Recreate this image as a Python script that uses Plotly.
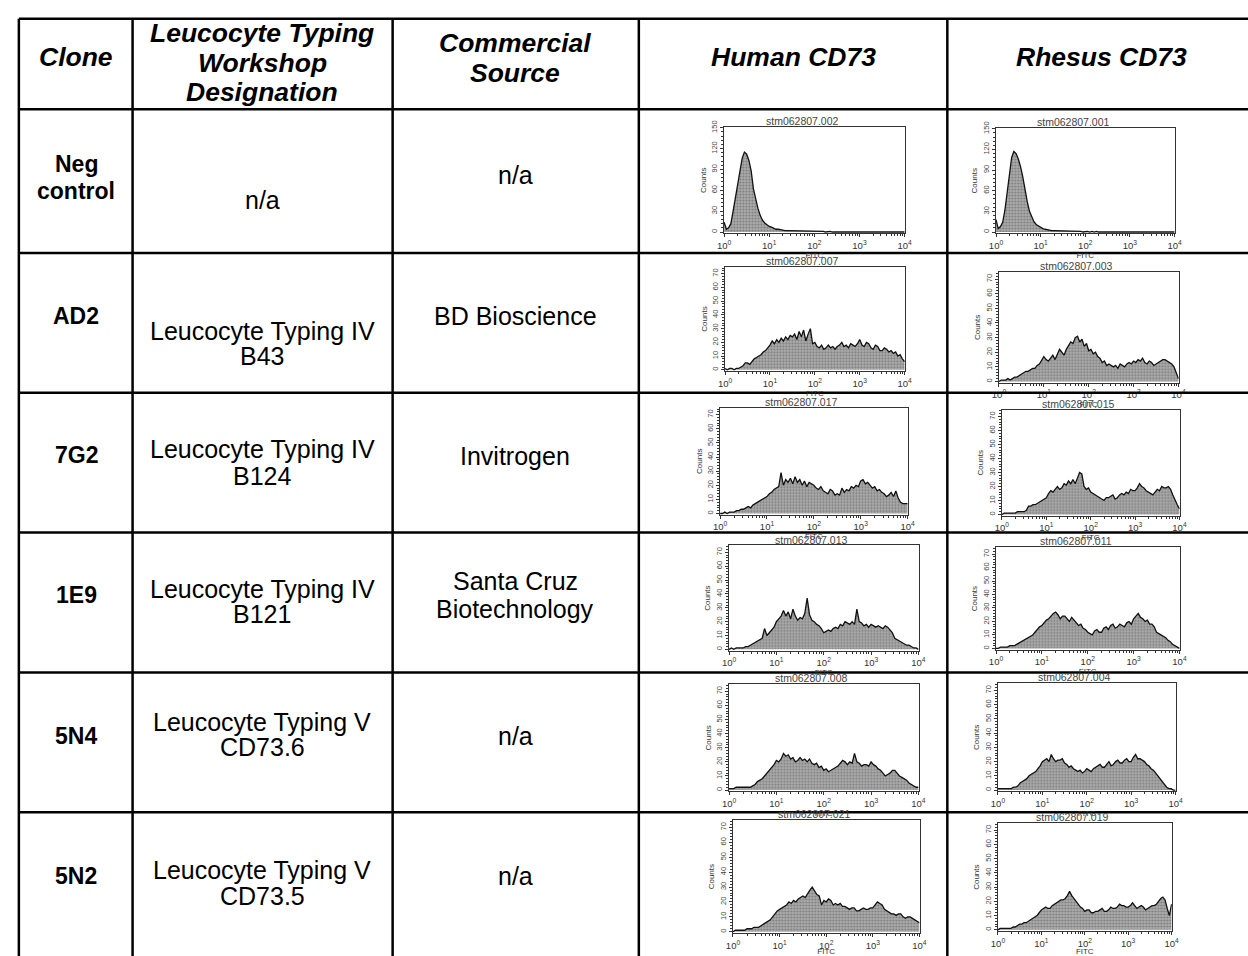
import plotly.graph_objects as go

W, H = 1248, 956

# ---------------- data ----------------
CHANNEL_LOG10 = [
    0.00, 0.05, 0.10, 0.15, 0.20, 0.25, 0.30, 0.35, 0.40, 0.45,
    0.50, 0.55, 0.60, 0.65, 0.70, 0.75, 0.80, 0.85, 0.90, 0.95,
    1.00, 1.05, 1.10, 1.15, 1.20, 1.25, 1.30, 1.35, 1.40, 1.45,
    1.50, 1.55, 1.60, 1.65, 1.70, 1.75, 1.80, 1.85, 1.90, 1.95,
    2.00, 2.05, 2.10, 2.15, 2.20, 2.25, 2.30, 2.35, 2.40, 2.45,
    2.50, 2.55, 2.60, 2.65, 2.70, 2.75, 2.80, 2.85, 2.90, 2.95,
    3.00, 3.05, 3.10, 3.15, 3.20, 3.25, 3.30, 3.35, 3.40, 3.45,
    3.50, 3.55, 3.60, 3.65, 3.70, 3.75, 3.80, 3.85, 3.90, 3.95,
    4.00,
]

HUMAN_NEG = [
    14, 4, 6, 12, 30, 50, 72, 92, 106, 115,
    112, 103, 88, 62, 46, 34, 24, 17, 13, 10,
    8, 7, 5, 4, 4, 3, 3, 2, 2, 2,
    2, 1, 2, 1, 1, 2, 1, 1, 1, 1,
    1, 1, 1, 1, 1, 0, 1, 1, 0, 0,
    1, 0, 0, 0, 0, 0, 0, 0, 0, 0,
    0, 0, 0, 0, 0, 0, 0, 0, 0, 0,
    0, 0, 0, 0, 0, 0, 0, 0, 0, 0,
    0,
]
RHESUS_NEG = [
    18, 5, 8, 14, 32, 58, 88, 108, 117, 114,
    106, 95, 80, 60, 44, 30, 21, 15, 11, 9,
    6, 5, 4, 3, 3, 2, 2, 2, 2, 1,
    2, 1, 1, 1, 2, 1, 1, 1, 1, 0,
    1, 1, 0, 1, 0, 1, 0, 0, 1, 0,
    0, 0, 0, 0, 0, 0, 0, 0, 0, 0,
    0, 0, 0, 0, 0, 0, 0, 0, 0, 0,
    0, 0, 0, 0, 0, 0, 0, 0, 0, 0,
    0,
]
HUMAN_AD2 = [
    1, 0, 1, 1, 0, 1, 1, 2, 3, 5,
    5, 4, 6, 8, 9, 10, 11, 13, 14, 16,
    18, 21, 19, 22, 20, 23, 21, 24, 22, 25,
    24, 26, 22, 28, 24, 29, 21, 26, 30, 19,
    20, 17, 16, 18, 15, 16, 18, 16, 17, 15,
    17, 18, 20, 17, 18, 16, 19, 18, 17, 19,
    22, 18, 17, 20, 19, 16, 15, 18, 17, 14,
    14, 16, 15, 13, 14, 12, 13, 10, 11, 8,
    6,
]
RHESUS_AD2 = [
    0, 1, 1, 1, 2, 1, 2, 3, 3, 4,
    5, 6, 7, 7, 8, 9, 9, 11, 12, 15,
    17, 15, 14, 16, 18, 15, 19, 22, 20, 18,
    22, 25, 27, 26, 30, 31, 27, 29, 24, 26,
    21, 22, 19, 20, 17, 16, 13, 14, 11, 12,
    11, 10, 11, 9, 12, 11, 10, 12, 13, 12,
    14, 13, 15, 14, 16, 13, 12, 14, 13, 11,
    12, 13, 14, 15, 15, 14, 13, 12, 10, 6,
    2,
]
HUMAN_7G2 = [
    0, 0, 1, 0, 1, 1, 1, 2, 2, 3,
    3, 4, 5, 4, 6, 7, 8, 9, 10, 11,
    12, 14, 15, 17, 18, 19, 29, 20, 24, 22,
    25, 21, 26, 22, 24, 20, 23, 19, 22, 21,
    20, 18, 17, 19, 16, 15, 14, 17, 16, 13,
    14, 13, 18, 15, 17, 16, 19, 18, 20, 19,
    23, 24, 21, 22, 20, 18, 19, 16, 17, 15,
    14, 12, 13, 15, 12, 16, 11, 8, 7, 7,
    7,
]
RHESUS_7G2 = [
    0, 1, 1, 1, 1, 1, 1, 2, 2, 2,
    2, 3, 6, 6, 7, 7, 8, 9, 10, 11,
    12, 15, 17, 16, 18, 20, 18, 19, 22, 21,
    24, 22, 25, 22, 26, 30, 29, 20, 18, 19,
    16, 15, 14, 13, 12, 11, 10, 12, 12, 13,
    14, 11, 12, 14, 15, 14, 16, 15, 18, 17,
    17, 19, 22, 20, 19, 17, 16, 15, 14, 16,
    18, 17, 20, 19, 19, 20, 18, 14, 10, 7,
    4,
]
HUMAN_1E9 = [
    0, 1, 0, 1, 1, 1, 1, 2, 2, 3,
    4, 5, 6, 7, 8, 15, 10, 12, 14, 16,
    20, 22, 24, 28, 24, 27, 22, 29, 24, 21,
    23, 22, 26, 37, 25, 21, 20, 18, 17, 15,
    12, 13, 14, 13, 15, 16, 15, 18, 17, 20,
    19, 18, 20, 18, 29, 20, 19, 17, 18, 16,
    18, 17, 16, 17, 16, 15, 17, 16, 14, 12,
    8, 7, 6, 5, 4, 3, 3, 2, 1, 1,
    0,
]
RHESUS_1E9 = [
    0, 0, 1, 1, 1, 1, 2, 2, 2, 3,
    4, 5, 6, 7, 8, 9, 10, 12, 14, 16,
    17, 19, 21, 22, 24, 26, 27, 25, 22, 24,
    24, 22, 20, 23, 21, 19, 17, 18, 15, 14,
    12, 11, 10, 13, 14, 12, 12, 15, 16, 14,
    17, 18, 15, 16, 18, 17, 16, 19, 20, 18,
    22, 24, 26, 23, 22, 20, 21, 18, 18, 16,
    12, 11, 10, 9, 8, 6, 5, 3, 2, 1,
    0,
]
HUMAN_5N4 = [
    1, 1, 1, 2, 2, 2, 2, 2, 2, 2,
    3, 4, 6, 7, 8, 10, 12, 14, 16, 18,
    21, 20, 22, 26, 24, 25, 22, 23, 20, 21,
    23, 21, 22, 20, 22, 19, 18, 19, 16, 17,
    14, 15, 13, 14, 15, 16, 17, 19, 21, 20,
    18, 20, 19, 26, 20, 19, 17, 18, 18, 17,
    20, 18, 17, 15, 14, 12, 10, 11, 12, 14,
    14, 12, 10, 9, 8, 7, 5, 4, 3, 2,
    2,
]
RHESUS_5N4 = [
    1, 1, 1, 1, 1, 1, 1, 2, 2, 3,
    5, 6, 7, 8, 10, 11, 12, 13, 15, 17,
    20, 21, 22, 20, 25, 22, 20, 21, 21, 22,
    19, 18, 16, 17, 15, 14, 13, 14, 12, 13,
    15, 14, 13, 15, 16, 17, 18, 16, 16, 18,
    20, 17, 18, 20, 21, 19, 19, 21, 22, 20,
    20, 23, 25, 22, 22, 21, 20, 18, 17, 15,
    14, 12, 10, 8, 6, 4, 2, 1, 1, 0,
    0,
]
HUMAN_5N2 = [
    0, 1, 1, 1, 1, 1, 2, 2, 2, 3,
    3, 3, 4, 5, 6, 7, 8, 10, 12, 14,
    15, 16, 17, 18, 20, 19, 21, 20, 22, 23,
    24, 23, 26, 28, 30, 27, 25, 24, 18, 21,
    20, 22, 21, 18, 19, 18, 19, 17, 17, 16,
    15, 16, 16, 14, 14, 15, 16, 15, 15, 16,
    16, 18, 20, 19, 18, 15, 14, 13, 12, 12,
    11, 12, 12, 10, 9, 10, 10, 9, 8, 7,
    6,
]
RHESUS_5N2 = [
    0, 1, 1, 1, 1, 1, 1, 2, 2, 3,
    4, 4, 5, 5, 6, 7, 8, 9, 10, 12,
    14, 15, 16, 15, 15, 17, 18, 19, 20, 21,
    21, 22, 24, 27, 24, 22, 20, 18, 16, 15,
    13, 14, 14, 12, 12, 13, 13, 14, 15, 13,
    13, 14, 16, 15, 15, 16, 18, 17, 17, 16,
    16, 17, 19, 17, 15, 16, 17, 16, 14, 15,
    16, 17, 17, 18, 20, 22, 23, 21, 15, 10,
    18,
]

FILE_NAMES = [
    "stm062807.002", "stm062807.001",
    "stm062807.007", "stm062807.003",
    "stm062807.017", "stm062807.015",
    "stm062807.013", "stm062807.011",
    "stm062807.008", "stm062807.004",
    "stm062807.021", "stm062807.019",
]
PANEL_COUNTS = [
    HUMAN_NEG, RHESUS_NEG, HUMAN_AD2, RHESUS_AD2, HUMAN_7G2, RHESUS_7G2,
    HUMAN_1E9, RHESUS_1E9, HUMAN_5N4, RHESUS_5N4, HUMAN_5N2, RHESUS_5N2,
]

HEADERS = [
    ["Clone"],
    ["Leucocyte Typing", "Workshop", "Designation"],
    ["Commercial", "Source"],
    ["Human CD73"],
    ["Rhesus CD73"],
]
CLONES = [["Neg", "control"], ["AD2"], ["7G2"], ["1E9"], ["5N4"], ["5N2"]]
WORKSHOP = [
    ["n/a"],
    ["Leucocyte Typing IV", "B43"],
    ["Leucocyte Typing IV", "B124"],
    ["Leucocyte Typing IV", "B121"],
    ["Leucocyte Typing V", "CD73.6"],
    ["Leucocyte Typing V", "CD73.5"],
]
SOURCES = [
    ["n/a"], ["BD Bioscience"], ["Invitrogen"],
    ["Santa Cruz", "Biotechnology"], ["n/a"], ["n/a"],
]

X_TICKS = [1, 10, 100, 1000, 10000]
X_TICK_TEXT = ["10<sup>0</sup>", "10<sup>1</sup>", "10<sup>2</sup>", "10<sup>3</sup>", "10<sup>4</sup>"]
NEG_Y_TICKS = [0, 30, 60, 90, 120, 150]
POS_Y_TICKS = [0, 10, 20, 30, 40, 50, 60, 70]

# ---------------- layout (pixel geometry) ----------------
COL_EDGES = [12, 127, 390, 639, 951, 1263]
ROW_EDGES = [12, 104, 250, 392, 534, 676, 818]
TABLE_BOTTOM = 1000
COL_CENTERS = [70, 258, 514, 795, 1107]

HEADER_Y = [[51], [26, 57, 86], [37, 67], [51], [51]]
CLONE_Y = [[159, 187], [314], [455], [597], [741], [883]]
WORKSHOP_Y = [[196], [329, 355], [449, 476], [591, 617], [726, 752], [877, 903]]
SOURCE_Y = [[171], [314], [456], [583, 612], [741], [883]]

# (left, right, top, bottom) of each histogram plot area, pixels
PANEL_BOXES = [
    (725, 908, 122, 230), (1000, 1181, 123, 230),
    (726, 908, 264, 370), (1003, 1185, 269, 382),
    (721, 911, 407, 516), (1006, 1186, 409, 517),
    (730, 922, 547, 654), (1000, 1186, 549, 653),
    (730, 922, 688, 797), (1002, 1182, 687, 797),
    (734, 923, 826, 941), (1002, 1178, 829, 939),
]

FONT = "Liberation Sans, Arial, Helvetica, sans-serif"


def fx(x):
    return x / W


def fy(y):
    return 1 - y / H


fitc = [10 ** c for c in CHANNEL_LOG10]
minor_x = [m * d for d in [1, 10, 100, 1000] for m in range(2, 10)]

fig = go.Figure()
layout = dict(
    width=W, height=H,
    margin=dict(l=0, r=0, t=0, b=0),
    paper_bgcolor="white", plot_bgcolor="white",
    showlegend=False,
    font=dict(family=FONT, color="black"),
)
annotations = []
shapes = []

for i, (counts, box, name) in enumerate(zip(PANEL_COUNTS, PANEL_BOXES, FILE_NAMES)):
    n = i + 1
    sfx = "" if n == 1 else str(n)
    left, right, top, bottom = box
    neg = i < 2
    fig.add_trace(go.Scatter(
        x=fitc, y=counts, xaxis="x" + sfx, yaxis="y" + sfx,
        mode="lines", line=dict(color="#111111", width=1.3),
        fill="tozeroy", fillcolor="#a8a8a8",
        fillpattern=dict(shape=".", bgcolor="#adadad", fgcolor="#4a4a4a",
                         size=3, solidity=0.4),
        hoverinfo="skip",
    ))
    layout["xaxis" + sfx] = dict(
        type="log", range=[-0.005, 4.005],
        domain=[fx(left), fx(right)], anchor="y" + sfx,
        showline=True, linecolor="#333", linewidth=1, mirror=True,
        ticks="outside", ticklen=3, tickcolor="#333",
        tickvals=X_TICKS, ticktext=X_TICK_TEXT,
        tickfont=dict(size=9.5, color="#333"),
        title=dict(text="FITC", font=dict(size=8, color="#333"), standoff=0),
        showgrid=False, zeroline=False,
        minor=dict(ticks="outside", ticklen=2, tickcolor="#333",
                   tickvals=minor_x, showgrid=False),
        fixedrange=True,
    )
    layout["yaxis" + sfx] = dict(
        range=[-2, 151] if neg else [-1, 75],
        domain=[fy(bottom), fy(top)], anchor="x" + sfx,
        showline=True, linecolor="#333", linewidth=1, mirror=True,
        ticks="outside", ticklen=3, tickcolor="#333",
        tickvals=NEG_Y_TICKS if neg else POS_Y_TICKS,
        tickangle=-90,
        tickfont=dict(size=7.5, color="#444"),
        title=dict(text="Counts", font=dict(size=8, color="#333"), standoff=2),
        showgrid=False, zeroline=False,
        minor=dict(ticks="outside", ticklen=2, tickcolor="#333",
                   dtick=6 if neg else 2, showgrid=False),
        fixedrange=True,
    )
    annotations.append(dict(
        x=fx((left + right) / 2 - 12), y=fy(top - 6), xref="paper", yref="paper",
        text=name, showarrow=False, xanchor="center", yanchor="middle",
        font=dict(size=10.5, color="#444", family=FONT),
    ))

# table grid lines
for x in COL_EDGES:
    shapes.append(dict(type="line", xref="paper", yref="paper",
                       x0=fx(x), x1=fx(x), y0=fy(ROW_EDGES[0]), y1=fy(TABLE_BOTTOM),
                       line=dict(color="black", width=2.5)))
for y in ROW_EDGES:
    shapes.append(dict(type="line", xref="paper", yref="paper",
                       x0=fx(COL_EDGES[0]), x1=fx(COL_EDGES[-1]), y0=fy(y), y1=fy(y),
                       line=dict(color="black", width=2.5)))


def add_text(lines, ys, xc, size, bold=False, italic=False):
    for t, y in zip(lines, ys):
        s = t
        if italic:
            s = "<i>" + s + "</i>"
        if bold:
            s = "<b>" + s + "</b>"
        annotations.append(dict(
            x=fx(xc), y=fy(y), xref="paper", yref="paper", text=s,
            showarrow=False, xanchor="center", yanchor="middle",
            font=dict(size=size, color="black", family=FONT),
        ))


for col, (lines, ys) in enumerate(zip(HEADERS, HEADER_Y)):
    add_text(lines, ys, COL_CENTERS[col], 26.5, bold=True, italic=True)

for r in range(len(CLONES)):
    add_text(CLONES[r], CLONE_Y[r], COL_CENTERS[0], 23, bold=True)
    add_text(WORKSHOP[r], WORKSHOP_Y[r], COL_CENTERS[1], 25)
    add_text(SOURCES[r], SOURCE_Y[r], COL_CENTERS[2], 25)

layout["annotations"] = annotations
layout["shapes"] = shapes
fig.update_layout(**layout)

fig.write_html(
    "out.html",
    config={"displayModeBar": False, "staticPlot": False},
    post_script="document.body.style.margin='0';document.body.style.overflow='hidden';",
)
